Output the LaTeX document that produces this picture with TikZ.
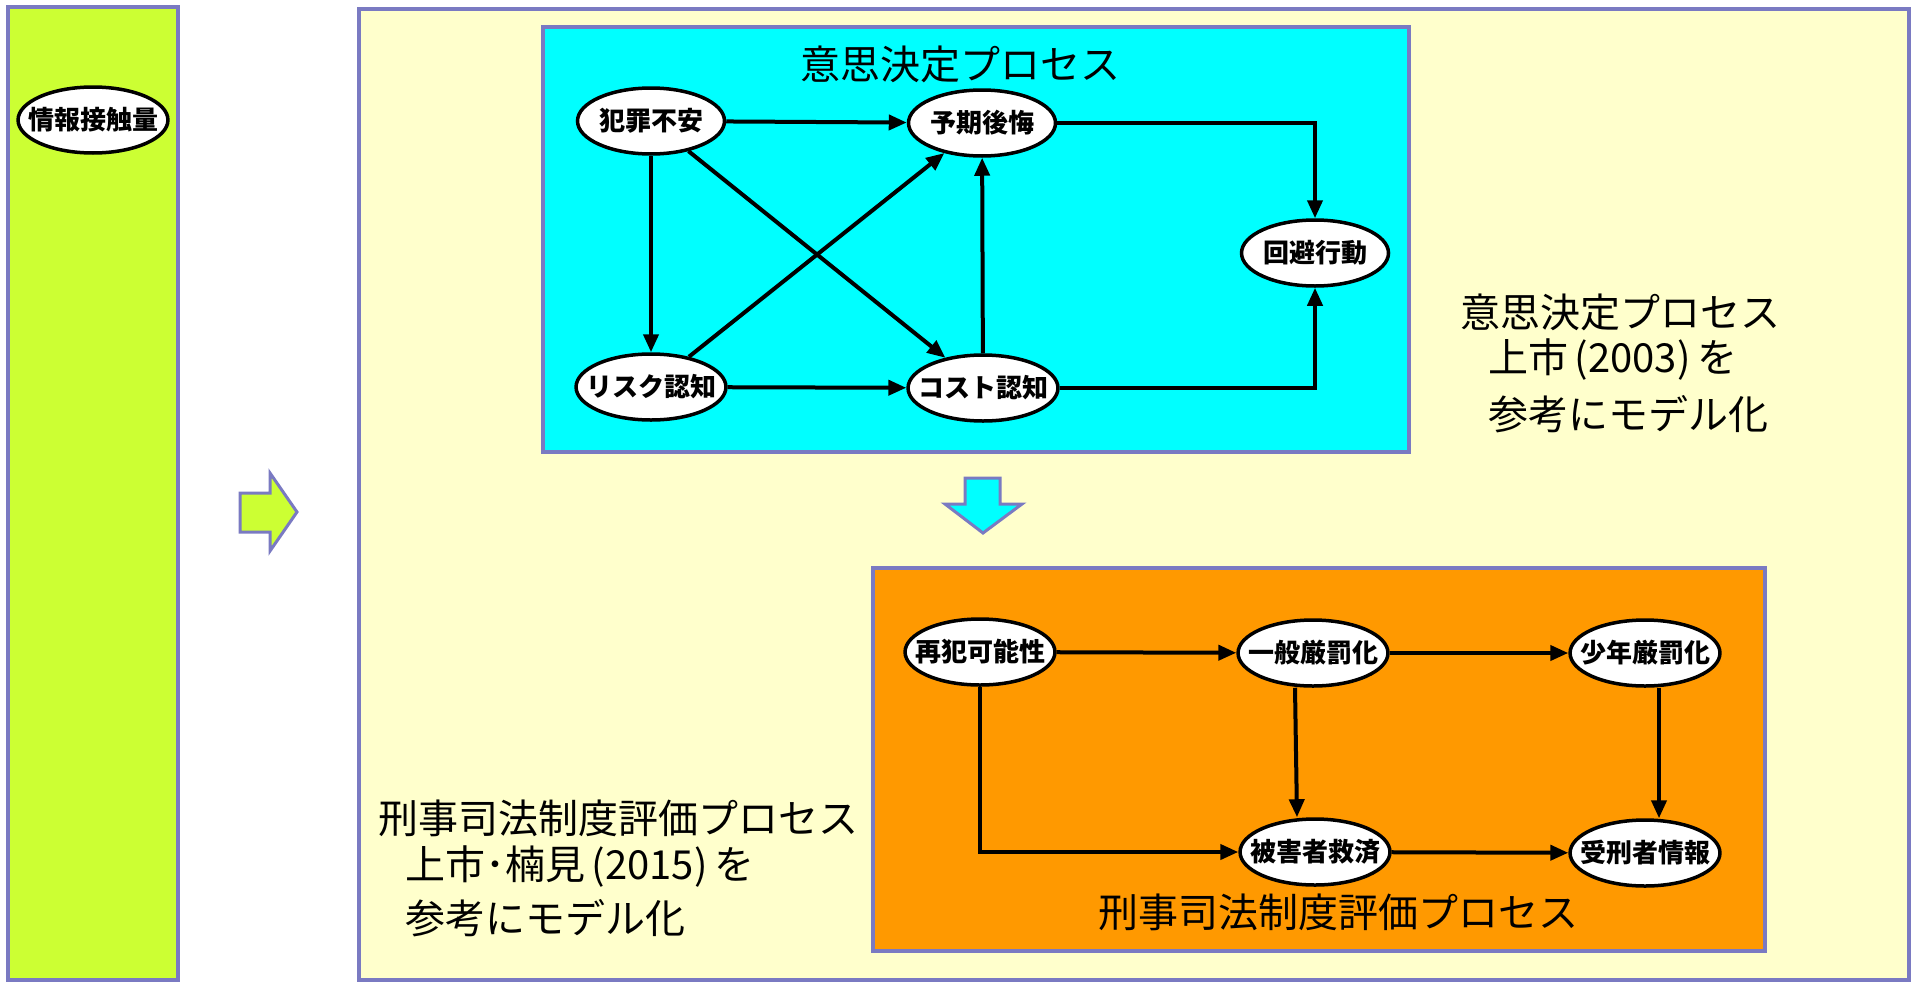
\documentclass[tikz,border=0pt]{standalone}
\usepackage{fontspec}
\setmainfont{Noto Sans CJK JP}
\newfontfamily\heavyjp{Noto Sans CJK JP Black}
\usetikzlibrary{arrows.meta,shapes.geometric}
\definecolor{frame}{RGB}{122,122,194}
\definecolor{lime}{RGB}{204,255,51}
\definecolor{cream}{RGB}{255,255,204}
\definecolor{aqua}{RGB}{0,255,255}
\definecolor{orng}{RGB}{255,153,0}
\begin{document}
\begin{tikzpicture}[x=1pt,y=-1pt,
 panel/.style={draw=frame,line width=4pt},
 oval/.style={ellipse,draw=black,line width=3.5pt,fill=white,minimum width=147pt,minimum height=66pt,inner xsep=-12pt,inner ysep=0pt,font=\fontsize{26}{26}\heavyjp},
 conn/.style={line width=4pt,-{Triangle[length=18pt,width=15pt]}},
 big/.style={font=\fontsize{40}{40}\selectfont,inner sep=0pt},
 fatarrow/.style={draw=frame,line width=3pt,line join=miter}
]
\useasboundingbox (0,0) rectangle (1913,985);
% panels
\draw[panel,fill=lime] (8,7) rectangle (178,980);
\draw[panel,fill=cream] (359,9) rectangle (1909,980);
\draw[panel,fill=aqua] (543,27) rectangle (1409,452);
\draw[panel,fill=orng] (873,568) rectangle (1765,951);
% block arrows
\draw[fatarrow,fill=lime] (240,493) -- (270,493) -- (270,473) -- (297,512) -- (270,551) -- (270,532) -- (240,532) -- cycle;
\draw[fatarrow,fill=aqua] (965,478) -- (1000,478) -- (1000,504) -- (1022,504) -- (983,533) -- (945,504) -- (965,504) -- cycle;
% left node
\node[oval] (jyoho) at (93,120) {情報接触量};
% decision process
\node[big] (t1) at (960,64) {意思決定プロセス};
\node[oval] (hanzai) at (651,121) {犯罪不安};
\node[oval] (yoki) at (982,123) {予期後悔};
\node[oval] (kaihi) at (1315,253) {回避行動};
\node[oval] (risk) at (651,387) {リスク認知};
\node[oval] (cost) at (983,388) {コスト認知};
\draw[conn] (hanzai) -- (yoki);
\draw[conn] (yoki.east) -| (kaihi.north);
\draw[conn] (hanzai) -- (risk);
\draw[conn] (hanzai) -- (cost);
\draw[conn] (risk) -- (yoki);
\draw[conn] (cost) -- (yoki);
\draw[conn] (risk) -- (cost);
\draw[conn] (cost.east) -| (kaihi.south);
% justice process
\node[oval] (saihan) at (980,652) {再犯可能性};
\node[oval] (ippan) at (1313,653) {一般厳罰化};
\node[oval] (shonen) at (1645,653) {少年厳罰化};
\node[oval] (higai) at (1315,852) {被害者救済};
\node[oval] (jukei) at (1645,853) {受刑者情報};
\node[big] (t2) at (1338,912) {刑事司法制度評価プロセス};
\draw[conn] (saihan) -- (ippan);
\draw[conn] (ippan) -- (shonen);
\draw[conn] (saihan.south) |- (higai.west);
\draw[conn] ([xshift=-18pt]ippan.south) -- ([xshift=-18pt]higai.north);
\draw[conn] ([xshift=14pt]shonen.south) -- ([xshift=14pt]jukei.north);
\draw[conn] (higai) -- (jukei);
% side texts
\node[big,anchor=west] (r1) at (1460,312) {意思決定プロセス};
\node[big,anchor=west] (r2) at (1488,360) {上市\,(2003)\,を};
\node[big,anchor=west] (r3) at (1488,414) {参考にモデル化};
\node[big,anchor=west] (l1) at (378,818) {刑事司法制度評価プロセス};
\node[big,anchor=west] (l2) at (405,867) {上市･楠見\,(2015)\,を};
\node[big,anchor=west] (l3) at (405,918) {参考にモデル化};
\end{tikzpicture}
\end{document}
